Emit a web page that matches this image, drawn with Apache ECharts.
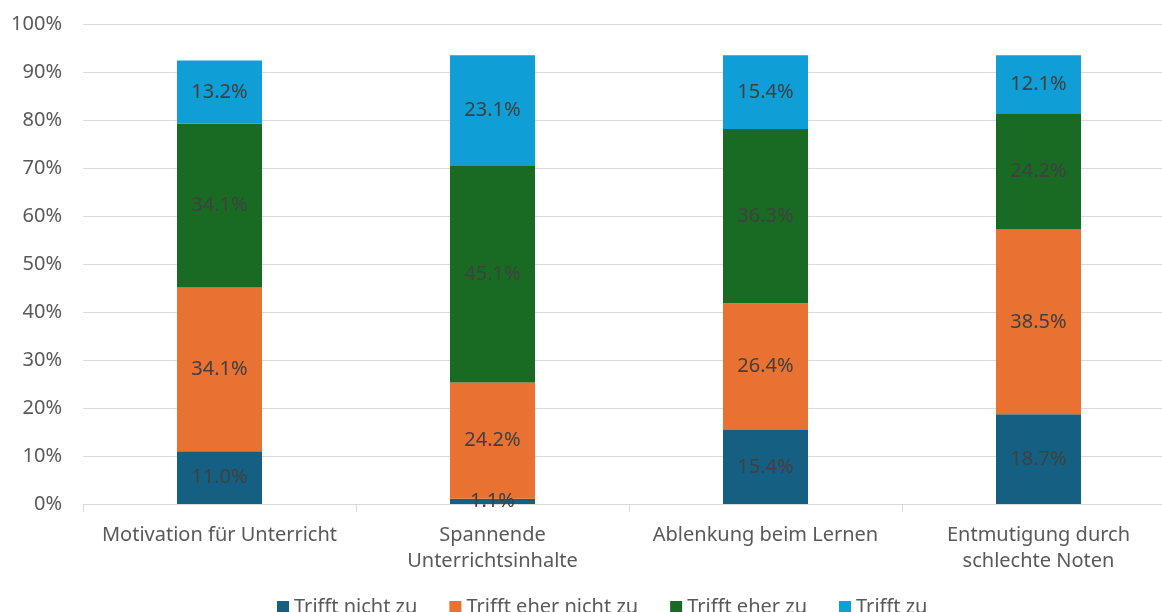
<!DOCTYPE html>
<html>
<head>
<meta charset="utf-8">
<script src="https://cdn.jsdelivr.net/npm/echarts@6/dist/echarts.min.js"></script>
<style>
html,body{margin:0;padding:0;background:#fff;}
#chart{width:1162px;height:612px;}
</style>
</head>
<body>
<div id="chart"></div>
<script>
const categories = ['Motivation für Unterricht', 'Spannende\nUnterrichtsinhalte', 'Ablenkung beim Lernen', 'Entmutigung durch\nschlechte Noten'];
const seriesNames = ['Trifft nicht zu', 'Trifft eher nicht zu', 'Trifft eher zu', 'Trifft zu'];
const trifftNichtZu = [11.0, 1.1, 15.4, 18.7];
const trifftEherNichtZu = [34.1, 24.2, 26.4, 38.5];
const trifftEherZu = [34.1, 45.1, 36.3, 24.2];
const trifftZu = [13.2, 23.1, 15.4, 12.1];
const yTicks = [0, 10, 20, 30, 40, 50, 60, 70, 80, 90, 100];

const colors = ['#156082', '#E97132', '#196B24', '#0F9ED5'];
const FONT = '"Noto Sans", sans-serif';
const values = [trifftNichtZu, trifftEherNichtZu, trifftEherZu, trifftZu];

const chart = echarts.init(document.getElementById('chart'), null, {renderer: 'canvas'});
chart.setOption({
  animation: false,
  color: colors,
  textStyle: {fontFamily: FONT},
  grid: {left: 83, width: 1092, top: 24, bottom: 108, containLabel: false, outerBoundsMode: 'none'},
  legend: {
    data: seriesNames,
    left: 272, top: 592,
    itemWidth: 12, itemHeight: 12, itemGap: 32,
    icon: 'rect',
    textStyle: {fontSize: 20, color: '#595959', fontFamily: FONT}
  },
  xAxis: {
    type: 'category',
    data: categories,
    axisLine: {lineStyle: {color: '#d9d9d9', width: 1}},
    axisTick: {show: true, interval: 0, length: 8, lineStyle: {color: '#d9d9d9'}},
    axisLabel: {interval: 0, fontSize: 20, color: '#595959', margin: 18, lineHeight: 26, fontFamily: FONT}
  },
  yAxis: {
    type: 'value',
    min: yTicks[0], max: yTicks[yTicks.length - 1], interval: 10,
    axisLine: {show: false},
    axisTick: {show: false},
    splitLine: {lineStyle: {color: '#d9d9d9', width: 1}},
    axisLabel: {fontSize: 20, color: '#595959', margin: 21, formatter: '{value}%', fontFamily: FONT}
  },
  series: seriesNames.map((name, i) => ({
    name: name,
    type: 'bar',
    stack: 'total',
    barWidth: 85,
    data: values[i],
    itemStyle: {color: colors[i]},
    label: {
      show: true,
      position: 'inside',
      fontSize: 20,
      color: '#404040',
      fontFamily: FONT,
      formatter: p => p.value.toFixed(1) + '%'
    }
  }))
});
</script>
</body>
</html>
